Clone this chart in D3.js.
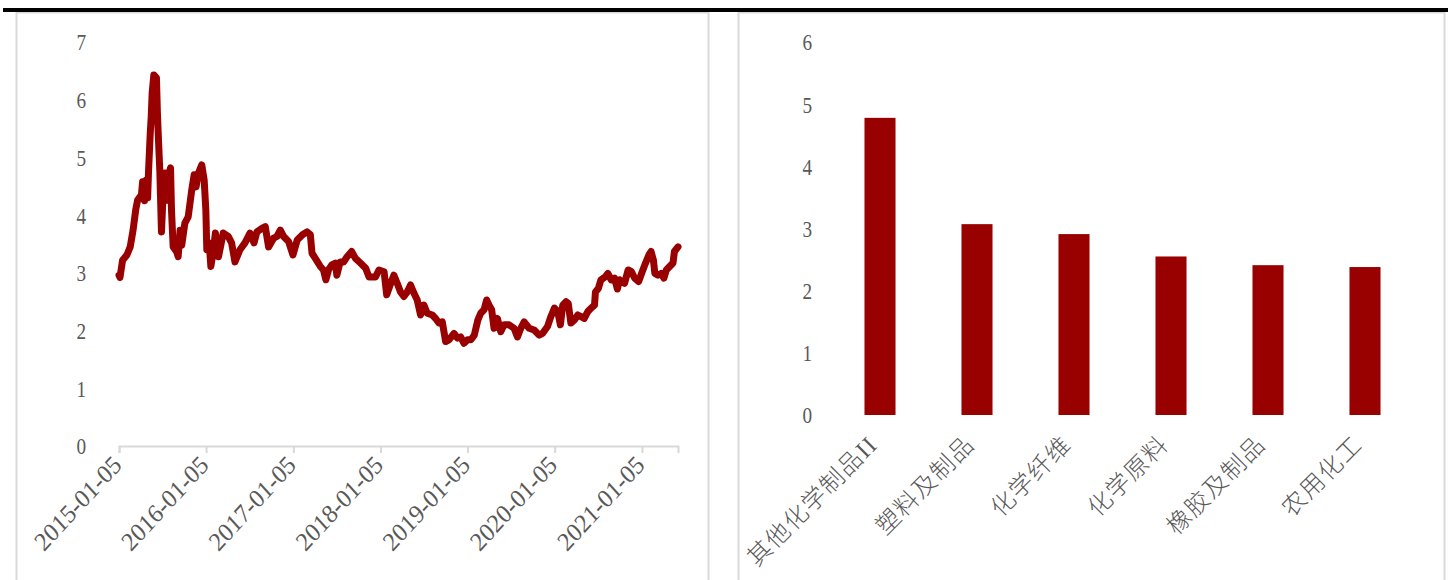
<!DOCTYPE html>
<html><head><meta charset="utf-8">
<script src="https://cdn.jsdelivr.net/npm/d3@7"></script>
<style>body{margin:0;background:#fff}svg{display:block}</style></head>
<body>
<svg id="c" width="1448" height="580"></svg>
<script>
// ---- Left chart: line series ----
const lineDates = [
"2015-01-05","2015-01-09","2015-01-20","2015-02-07","2015-02-21","2015-03-05","2015-03-16","2015-03-24","2015-04-09","2015-04-14","2015-04-22","2015-04-30","2015-05-05","2015-05-09","2015-05-16","2015-05-20","2015-05-24","2015-05-31","2015-06-11","2015-06-15","2015-06-20","2015-06-25","2015-07-02","2015-07-09","2015-07-16","2015-07-23","2015-07-30","2015-08-09","2015-08-13","2015-08-20","2015-09-04","2015-09-10","2015-09-18","2015-09-25","2015-10-08","2015-10-22","2015-11-06","2015-11-16","2015-11-24","2015-12-04","2015-12-18","2015-12-28",
"2016-01-04","2016-01-08","2016-01-18","2016-01-25","2016-02-05","2016-02-13","2016-02-22","2016-02-26","2016-03-17","2016-04-07","2016-04-21","2016-05-05","2016-05-26","2016-06-16","2016-07-07","2016-07-24","2016-08-05","2016-08-26","2016-09-09","2016-09-23","2016-10-14","2016-10-28","2016-11-11","2016-11-25","2016-12-16",
"2017-01-03","2017-01-21","2017-02-12","2017-03-03","2017-03-17","2017-03-24","2017-04-07","2017-04-28","2017-05-11","2017-05-21","2017-06-01","2017-06-15","2017-06-30","2017-07-06","2017-07-20","2017-08-04","2017-08-18","2017-09-06","2017-09-22","2017-10-13","2017-11-04","2017-11-18","2017-11-25","2017-12-15","2017-12-30",
"2018-01-20","2018-01-31","2018-02-17","2018-03-02","2018-03-16","2018-03-30","2018-04-13","2018-04-27","2018-05-11","2018-05-25","2018-06-08","2018-06-22","2018-07-06","2018-07-20","2018-08-10","2018-08-24","2018-09-07","2018-09-21","2018-10-05","2018-10-19","2018-11-09","2018-11-24","2018-12-07","2018-12-21",
"2019-01-05","2019-01-19","2019-02-02","2019-02-17","2019-03-01","2019-03-15","2019-03-26","2019-04-05","2019-04-16","2019-04-26","2019-05-10","2019-05-24","2019-06-07","2019-06-28","2019-07-19","2019-08-02","2019-08-16","2019-08-30","2019-09-20","2019-10-11","2019-11-01","2019-11-15","2019-12-06","2019-12-20",
"2020-01-04","2020-01-18","2020-01-29","2020-02-08","2020-02-22","2020-03-02","2020-03-13","2020-03-27","2020-04-11","2020-04-25","2020-05-08","2020-05-23","2020-06-06","2020-06-20","2020-06-24","2020-07-06","2020-07-17","2020-08-04","2020-08-15","2020-08-29","2020-09-12","2020-09-24","2020-10-03","2020-10-24","2020-11-08","2020-11-22","2020-12-05","2020-12-22",
"2021-01-06","2021-01-20","2021-02-03","2021-02-12","2021-02-22","2021-02-28","2021-03-13","2021-03-26","2021-04-07","2021-04-17","2021-05-01","2021-05-15","2021-05-21","2021-06-05"
];
const lineValues = [
2.96,2.92,3.22,3.31,3.45,3.74,4.09,4.26,4.35,4.58,4.25,4.61,4.30,4.78,5.42,5.70,6.12,6.43,6.38,5.77,5.25,4.78,3.71,4.38,4.73,4.26,4.66,4.82,4.09,3.45,3.36,3.28,3.74,3.48,3.86,3.97,4.44,4.70,4.49,4.73,4.87,4.61,
4.09,3.40,3.52,3.11,3.40,3.69,3.40,3.28,3.69,3.63,3.52,3.19,3.40,3.52,3.69,3.52,3.71,3.77,3.80,3.45,3.60,3.63,3.74,3.63,3.54,
3.31,3.57,3.66,3.71,3.66,3.34,3.25,3.11,3.05,2.88,3.05,3.14,3.17,2.96,3.19,3.19,3.28,3.37,3.25,3.17,3.08,2.93,2.93,2.93,3.05,
3.02,2.62,2.82,2.96,2.82,2.67,2.59,2.67,2.79,2.65,2.53,2.27,2.44,2.30,2.27,2.21,2.13,2.15,1.81,1.84,1.95,1.87,1.89,1.78,
1.84,1.84,1.92,2.18,2.30,2.36,2.53,2.44,2.36,2.04,2.21,1.98,2.10,2.10,2.04,1.89,2.04,2.15,2.04,2.01,1.92,1.95,2.07,2.24,
2.39,2.33,2.10,2.44,2.50,2.47,2.13,2.18,2.27,2.24,2.21,2.33,2.39,2.44,2.67,2.73,2.88,2.93,2.99,2.88,2.91,2.72,2.88,2.82,3.05,3.02,2.91,2.85,
3.02,3.17,3.31,3.37,3.22,2.99,2.96,2.99,2.91,3.05,3.11,3.17,3.37,3.45
];
const lineXTickLabels = ["2015-01-05","2016-01-05","2017-01-05","2018-01-05","2019-01-05","2020-01-05","2021-01-05"];
const lineYTicks = [0,1,2,3,4,5,6,7];

// ---- Right chart: bars ----
const barCategories = ["其他化学制品II","塑料及制品","化学纤维","化学原料","橡胶及制品","农用化工"];
const barValues = [4.78,3.07,2.91,2.55,2.41,2.38];
const barYTicks = [0,1,2,3,4,5,6];

const RED = "#990000", TXT = "#595959", GRID = "#d9d9d9";
const FONT = "'Liberation Serif','Times New Roman','Noto Sans CJK SC',serif";
const svg = d3.select("#c");
const parse = d3.timeParse("%Y-%m-%d");

svg.append("rect").attr("width",1448).attr("height",580).attr("fill","#fff");
// panel frames
svg.append("rect").attr("x",16.5).attr("y",12.5).attr("width",692).attr("height",600)
  .attr("fill","none").attr("stroke",GRID).attr("stroke-width",2);
svg.append("rect").attr("x",738.5).attr("y",12.5).attr("width",706).attr("height",600)
  .attr("fill","none").attr("stroke",GRID).attr("stroke-width",2);
// top black rule
svg.append("rect").attr("x",3).attr("y",8).attr("width",1445).attr("height",4).attr("fill","#000");

// ---------- Left line chart ----------
const lineData = lineDates.map((d,i)=>({date:parse(d), v:lineValues[i]}));
const x = d3.scaleTime().domain([parse("2015-01-05"), parse("2021-06-05")]).range([119,678]);
const y = d3.scaleLinear().domain([0,7]).range([446,42]);

const xAxis = d3.axisBottom(x).tickValues(lineXTickLabels.map(parse)).tickSize(7).tickFormat("");
const gx = svg.append("g").attr("transform","translate(0,446)").call(xAxis);
gx.select(".domain").attr("stroke",GRID).attr("stroke-width",2);
gx.selectAll(".tick line").attr("stroke",GRID).attr("stroke-width",2);

svg.append("g").selectAll("text").data(lineXTickLabels).join("text")
  .attr("transform",d=>`translate(${x(parse(d))-2},${460}) scale(0.92,1) rotate(-45)`)
  .attr("text-anchor","end").attr("dy","0.35em")
  .attr("font-family",FONT).attr("font-size",26).attr("fill",TXT)
  .text(d=>d);

svg.append("g").selectAll("text").data(lineYTicks).join("text")
  .attr("transform",d=>`translate(86,${y(d)}) scale(0.8,1)`)
  .attr("text-anchor","end").attr("dy","0.35em")
  .attr("font-family",FONT).attr("font-size",24).attr("fill",TXT)
  .text(d=>d);

svg.append("path").datum(lineData)
  .attr("fill","none").attr("stroke",RED).attr("stroke-width",7)
  .attr("stroke-linejoin","round").attr("stroke-linecap","round")
  .attr("d", d3.line().x(d=>x(d.date)).y(d=>y(d.v)));

// ---------- Right bar chart ----------
const xb = d3.scaleBand().domain(barCategories).range([831.5,1413.5]).paddingInner(0.68).paddingOuter(0.34);
const yb = d3.scaleLinear().domain([0,6]).range([415,42]);

svg.append("g").selectAll("text").data(barYTicks).join("text")
  .attr("transform",d=>`translate(812,${yb(d)}) scale(0.8,1)`)
  .attr("text-anchor","end").attr("dy","0.35em")
  .attr("font-family",FONT).attr("font-size",24).attr("fill",TXT)
  .text(d=>d);

svg.append("g").selectAll("rect").data(barCategories).join("rect")
  .attr("x",d=>xb(d)).attr("width",xb.bandwidth())
  .attr("y",(d,i)=>yb(barValues[i])).attr("height",(d,i)=>yb(0)-yb(barValues[i]))
  .attr("fill",RED);

svg.append("g").selectAll("text").data(barCategories).join("text")
  .attr("transform",d=>`translate(${xb(d)+xb.bandwidth()/2-7},${440}) rotate(-45)`)
  .attr("text-anchor","end").attr("dy","0.35em").attr("letter-spacing",1.5)
  .attr("font-family",FONT).attr("font-weight",300).attr("font-size",24).attr("fill",TXT)
  .text(d=>d);
</script>
</body></html>
